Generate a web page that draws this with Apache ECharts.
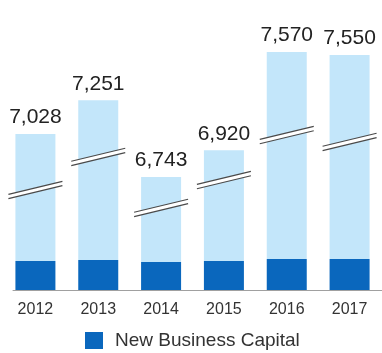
<!DOCTYPE html>
<html>
<head>
<meta charset="utf-8">
<script src="https://cdn.jsdelivr.net/npm/echarts@6/dist/echarts.min.js"></script>
<style>
  html, body { margin: 0; padding: 0; background: #fff; }
  #chart { width: 382px; height: 353px; }
</style>
</head>
<body>
<div id="chart"></div>
<script>
// Capital by year: total shown above each bar, new business capital as the base segment
const years = ['2012', '2013', '2014', '2015', '2016', '2017'];
const totals = [7028, 7251, 6743, 6920, 7570, 7550];
const newBusinessCapital = [192, 199, 185, 192, 205, 205];
// axis value at which each bar carries its "//" break symbol
const breakMarkValues = [6657, 6876, 6538, 6723, 7021, 6975];

const remainder = totals.map((t, i) => t - newBusinessCapital[i]);
const fontFamily = '"Liberation Sans", Arial, Helvetica, sans-serif';

const chart = echarts.init(document.getElementById('chart'), null, { renderer: 'canvas' });

chart.setOption({
  animation: false,
  textStyle: { fontFamily: fontFamily },
  grid: [
    { left: 4, right: 1, top: 40, bottom: 63 },
    { left: 13, right: 0, top: 289, bottom: 63 }
  ],
  legend: {
    data: ['New Business Capital'],
    icon: 'rect',
    left: 80,
    top: 326,
    itemWidth: 18,
    itemHeight: 17,
    itemGap: 10,
    textStyle: { fontSize: 19, color: '#333', fontFamily: fontFamily, padding: [0, 0, 0, 7] }
  },
  xAxis: [
    {
      type: 'category',
      gridIndex: 0,
      data: years,
      axisLine: { show: false },
      axisTick: { show: false },
      axisLabel: { fontSize: 16, color: '#333', margin: 12 }
    },
    {
      type: 'category',
      gridIndex: 1,
      data: years,
      axisLine: { show: true, lineStyle: { color: '#a0a0a0', width: 1 } },
      axisTick: { show: false },
      axisLabel: { show: false }
    }
  ],
  yAxis: [
    {
      type: 'value',
      gridIndex: 0,
      show: false,
      min: 0,
      max: 7650,
      splitLine: { show: false },
      breaks: [{ start: 300, end: 6295, gap: 0 }],
      breakArea: { show: false }
    },
    { type: 'value', gridIndex: 1, show: false }
  ],
  series: [
    {
      name: 'New Business Capital',
      type: 'bar',
      stack: 'capital',
      barWidth: 40,
      data: newBusinessCapital,
      itemStyle: { color: '#0a67bd' }
    },
    {
      name: 'Total Capital',
      type: 'bar',
      stack: 'capital',
      barWidth: 40,
      data: remainder,
      itemStyle: { color: '#c3e6fa' },
      label: {
        show: true,
        position: 'top',
        distance: 6,
        fontSize: 21,
        color: '#222',
        formatter: p => totals[p.dataIndex].toLocaleString('en-US')
      }
    },
    {
      name: 'Break',
      type: 'custom',
      data: breakMarkValues.map((v, i) => [i, v]),
      z: 5,
      renderItem: function (params, api) {
        const c = api.coord([api.value(0), api.value(1)]);
        const half = 27, rise = 6.5, sep = 2.2;
        const x1 = c[0] - half, x2 = c[0] + half;
        const y1 = c[1] + rise, y2 = c[1] - rise;
        return {
          type: 'group',
          children: [
            {
              type: 'polygon',
              shape: { points: [[x1, y1 - sep], [x2, y2 - sep], [x2, y2 + sep], [x1, y1 + sep]] },
              style: { fill: '#ffffff' }
            },
            {
              type: 'line',
              shape: { x1: x1, y1: y1 - sep, x2: x2, y2: y2 - sep },
              style: { stroke: '#4a4a4a', lineWidth: 1.2 }
            },
            {
              type: 'line',
              shape: { x1: x1, y1: y1 + sep, x2: x2, y2: y2 + sep },
              style: { stroke: '#4a4a4a', lineWidth: 1.2 }
            }
          ]
        };
      }
    }
  ]
});
</script>
</body>
</html>
